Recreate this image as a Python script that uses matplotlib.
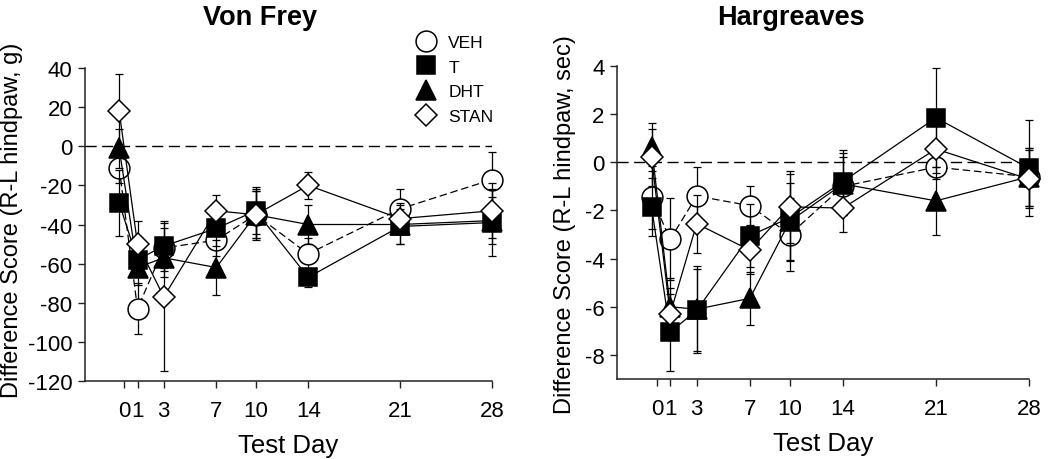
import matplotlib
matplotlib.use("Agg")
import matplotlib.pyplot as plt
from matplotlib.lines import Line2D

plt.rcParams['font.family'] = ['Liberation Sans', 'DejaVu Sans']
plt.rcParams['axes.unicode_minus'] = False

# test days (baseline drawn just before day 0)
days = [-0.4, 1, 3, 7, 10, 14, 21, 28]
tick_days = [0, 1, 3, 7, 10, 14, 21, 28]
groups = ["VEH", "T", "DHT", "STAN"]

# Von Frey (g)
vf_veh = [-11, -83, -52, -48, -35, -55, -32, -17]
vf_veh_err = [8, 13, 10, 8, 12, 8, 10, 14]
vf_t = [-29, -58, -51, -42, -33, -67, -41, -39]
vf_t_err = [17, 8, 13, 9, 12, 5, 9, 17]
vf_dht = [-1, -62, -57, -62, -35, -40, -40, -38]
vf_dht_err = [10, 9, 10, 14, 12, 10, 10, 12]
vf_stan = [18, -50, -77, -33, -35, -20, -37, -33]
vf_stan_err = [19, 12, 38, 8, 13, 7, 8, 14]

# Hargreaves (sec)
hg_veh = [-1.45, -3.2, -1.4, -1.8, -3.0, -1.0, -0.2, -0.6]
hg_veh_err = [1.3, 1.7, 1.2, 0.8, 1.5, 1.2, 0.5, 1.2]
hg_t = [-1.85, -7.05, -6.15, -3.05, -2.3, -0.8, 1.85, -0.25]
hg_t_err = [1.2, 1.6, 1.7, 1.3, 1.8, 1.3, 2.05, 2.0]
hg_dht = [0.65, -6.0, -6.1, -5.65, -2.45, -0.9, -1.6, -0.6]
hg_dht_err = [1.0, 1.2, 1.8, 1.1, 1.6, 1.3, 1.4, 1.2]
hg_stan = [0.2, -6.3, -2.55, -3.65, -1.85, -1.9, 0.55, -0.7]
hg_stan_err = [1.2, 1.1, 1.2, 1.0, 1.5, 1.0, 1.0, 1.2]

styles = {
    "VEH": dict(marker="o", mfc="white", ms=15, ls=(0, (6, 3))),
    "T": dict(marker="s", mfc="black", ms=13.5, ls="-"),
    "DHT": dict(marker="^", mfc="black", ms=14.5, ls="-"),
    "STAN": dict(marker="D", mfc="white", ms=11.5, ls="-"),
}

fig = plt.figure(figsize=(10.5, 4.6), dpi=100)
ax1 = fig.add_axes([85 / 1050, 1 - 382 / 460, 407 / 1050, 313 / 460])
ax2 = fig.add_axes([617 / 1050, 1 - 380 / 460, 412 / 1050, 313 / 460])


def draw(ax, series, ylim, yticks):
    ax.axhline(0, color="black", lw=1.0, ls=(0, (8, 4)), zorder=1)
    for z, (name, vals, errs) in enumerate(series):
        st = styles[name]
        eb = ax.errorbar(days, vals, yerr=errs, fmt="none", ecolor="black",
                         elinewidth=0.9, capsize=3, capthick=0.9, zorder=2 + z)
        for art in eb.lines[1] + eb.lines[2]:
            art.set_clip_on(False)
        ax.plot(days, vals, color="black", lw=0.9, ls=st["ls"],
                marker=st["marker"], ms=st["ms"], mfc=st["mfc"],
                mec="black", mew=1.1, zorder=3 + z, clip_on=False)
    ax.set_xlim(-3, 28)
    ax.set_ylim(*ylim)
    ax.set_xticks(tick_days)
    ax.set_xticklabels([str(d) for d in tick_days])
    ax.set_yticks(yticks)
    for s in ["top", "right"]:
        ax.spines[s].set_visible(False)
    for s in ["left", "bottom"]:
        ax.spines[s].set_linewidth(1.1)
        ax.spines[s].set_color("#222222")
    ax.tick_params(axis="both", direction="out", length=5, width=1.0,
                   labelsize=16, color="#222222")
    ax.tick_params(axis="x", pad=9)
    ax.tick_params(axis="y", pad=4)
    ax.set_xlabel("Test Day", fontsize=18.5, labelpad=8)


draw(ax1, [("VEH", vf_veh, vf_veh_err), ("T", vf_t, vf_t_err),
           ("DHT", vf_dht, vf_dht_err), ("STAN", vf_stan, vf_stan_err)],
     (-120, 40), list(range(-120, 41, 20)))
draw(ax2, [("VEH", hg_veh, hg_veh_err), ("T", hg_t, hg_t_err),
           ("DHT", hg_dht, hg_dht_err), ("STAN", hg_stan, hg_stan_err)],
     (-9, 4), list(range(-8, 5, 2)))

fig.text(12 / 1050, 1 - 220 / 460, "Difference Score (R-L hindpaw, g)",
         rotation=90, ha="center", va="center", fontsize=17)
fig.text(565 / 1050, 1 - 225 / 460, "Difference Score (R-L hindpaw, sec)",
         rotation=90, ha="center", va="center", fontsize=17)

fig.text(260 / 1050, 1 - 18 / 460, "Von Frey", ha="center", va="center",
         fontsize=19.5, fontweight="bold")
fig.text(791 / 1050, 1 - 18 / 460, "Hargreaves", ha="center", va="center",
         fontsize=19.5, fontweight="bold")

handles = []
for name in groups:
    st = styles[name]
    handles.append(Line2D([], [], ls="none", marker=st["marker"], ms=st["ms"],
                          mfc=st["mfc"], mec="black", mew=1.1))
ax1.legend(handles, groups, loc="upper left", frameon=False, fontsize=12.5,
           bbox_to_anchor=(405 / 1050, 1 - 27 / 460),
           bbox_transform=fig.transFigure, handlelength=1.4,
           handletextpad=0.6, labelspacing=0.55, borderpad=0)

fig.savefig("out.png", dpi=100)
